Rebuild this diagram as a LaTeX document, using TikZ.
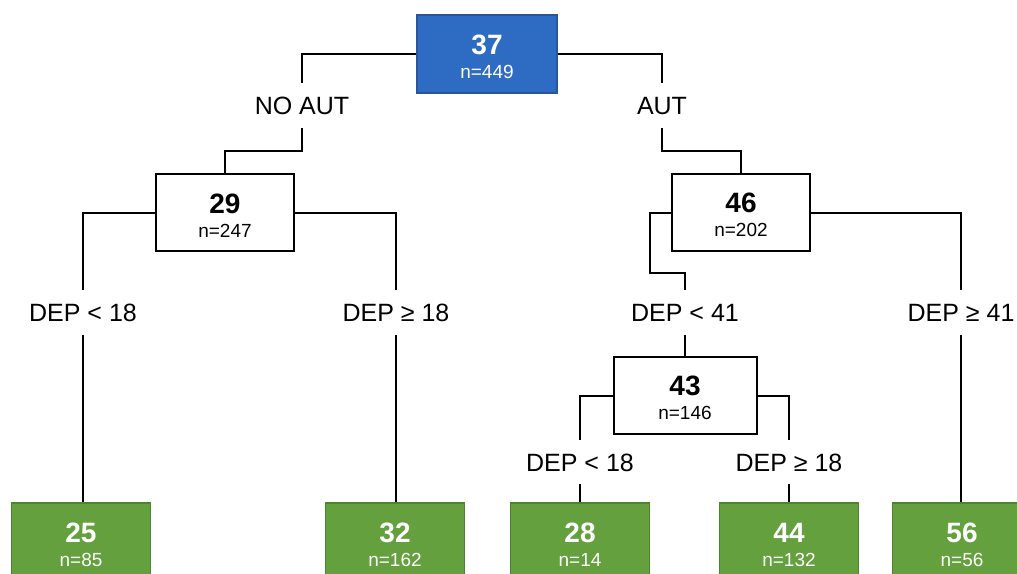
\documentclass[tikz,border=0pt]{standalone}
\usepackage{fontspec}
\setmainfont{Liberation Sans}
\definecolor{rootblue}{RGB}{46,108,196}
\definecolor{rootedge}{RGB}{44,84,150}
\definecolor{leafgreen}{RGB}{100,160,62}
\definecolor{leafedge}{RGB}{78,132,46}
\newcommand\bignum[1]{{\fontsize{28}{24}\selectfont\bfseries\rule{0pt}{25pt}#1}}
\newcommand\nlab[1]{#1}
\begin{document}
\begin{tikzpicture}[x=1pt,y=-1pt,
  conn/.style={draw=black, line width=2pt, line join=miter},
  box/.style={draw, line width=2pt, minimum width=138pt, minimum height=77pt,
    inner sep=0pt, align=center, font=\fontsize{19}{24}\selectfont},
  splitbox/.style={box, fill=white, text=black},
  rootbox/.style={box, line width=1.5pt, draw=rootedge, fill=rootblue, text=white, minimum width=140pt, minimum height=78pt},
  leafbox/.style={box, line width=1.5pt, draw=leafedge, fill=leafgreen, text=white, minimum width=139pt, minimum height=78pt},
  lab/.style={font=\fontsize{25}{30}\selectfont, text height=18.5pt, text depth=0pt,
    inner xsep=2pt, inner ysep=13pt}]
\useasboundingbox (0,0) rectangle (1017,573);
\clip (0,0) rectangle (1017,573);
\fill[white] (0,0) rectangle (1017,573);

% nodes
\node[rootbox] (root) at (487,54) {\bignum{37}\\\nlab{n=449}};
\node[lab] (noaut) at (302,105.5) {NO AUT};
\node[lab] (aut) at (662,105.5) {AUT};
\node[splitbox] (n29) at (225,212.5) {\bignum{29}\\\nlab{n=247}};
\node[splitbox] (n46) at (741,212.5) {\bignum{46}\\\nlab{n=202}};
\node[lab] (l1) at (83,312.5) {DEP < 18};
\node[lab] (l2) at (396,312.5) {DEP ≥ 18};
\node[lab] (l3) at (685,312.5) {DEP < 41};
\node[lab] (l4) at (961,312.5) {DEP ≥ 41};
\node[splitbox, minimum width=143pt] (n43) at (685,395.5) {\bignum{43}\\\nlab{n=146}};
\node[lab] (l5) at (580,462) {DEP < 18};
\node[lab] (l6) at (789,462) {DEP ≥ 18};
\node[leafbox] (f25) at (81,542) {\bignum{25}\\\nlab{n=85}};
\node[leafbox] (f32) at (395,542) {\bignum{32}\\\nlab{n=162}};
\node[leafbox] (f28) at (580,542) {\bignum{28}\\\nlab{n=14}};
\node[leafbox] (f44) at (789,542) {\bignum{44}\\\nlab{n=132}};
\node[leafbox] (f56) at (962,542) {\bignum{56}\\\nlab{n=56}};

% connectors
\draw[conn] (root.west) -| (noaut.north);
\draw[conn] (root.east) -| (aut.north);
\draw[conn] (noaut.south) -- ++(0,23) -| (n29.north);
\draw[conn] (aut.south) -- ++(0,23) -| (n46.north);
\draw[conn] (n29.west) -| (l1.north);
\draw[conn] (n29.east) -| (l2.north);
\draw[conn] (n46.west) -| ++(-21,60) -| (l3.north);
\draw[conn] (n46.east) -| (l4.north);
\draw[conn] (l1.south) -- (l1.south |- f25.north);
\draw[conn] (l2.south) -- (l2.south |- f32.north);
\draw[conn] (l3.south) -- (n43.north);
\draw[conn] (n43.west) -| (l5.north);
\draw[conn] (n43.east) -| (l6.north);
\draw[conn] (l5.south) -- (f28.north);
\draw[conn] (l6.south) -- (f44.north);
\draw[conn] (l4.south) -- (l4.south |- f56.north);
\end{tikzpicture}
\end{document}
